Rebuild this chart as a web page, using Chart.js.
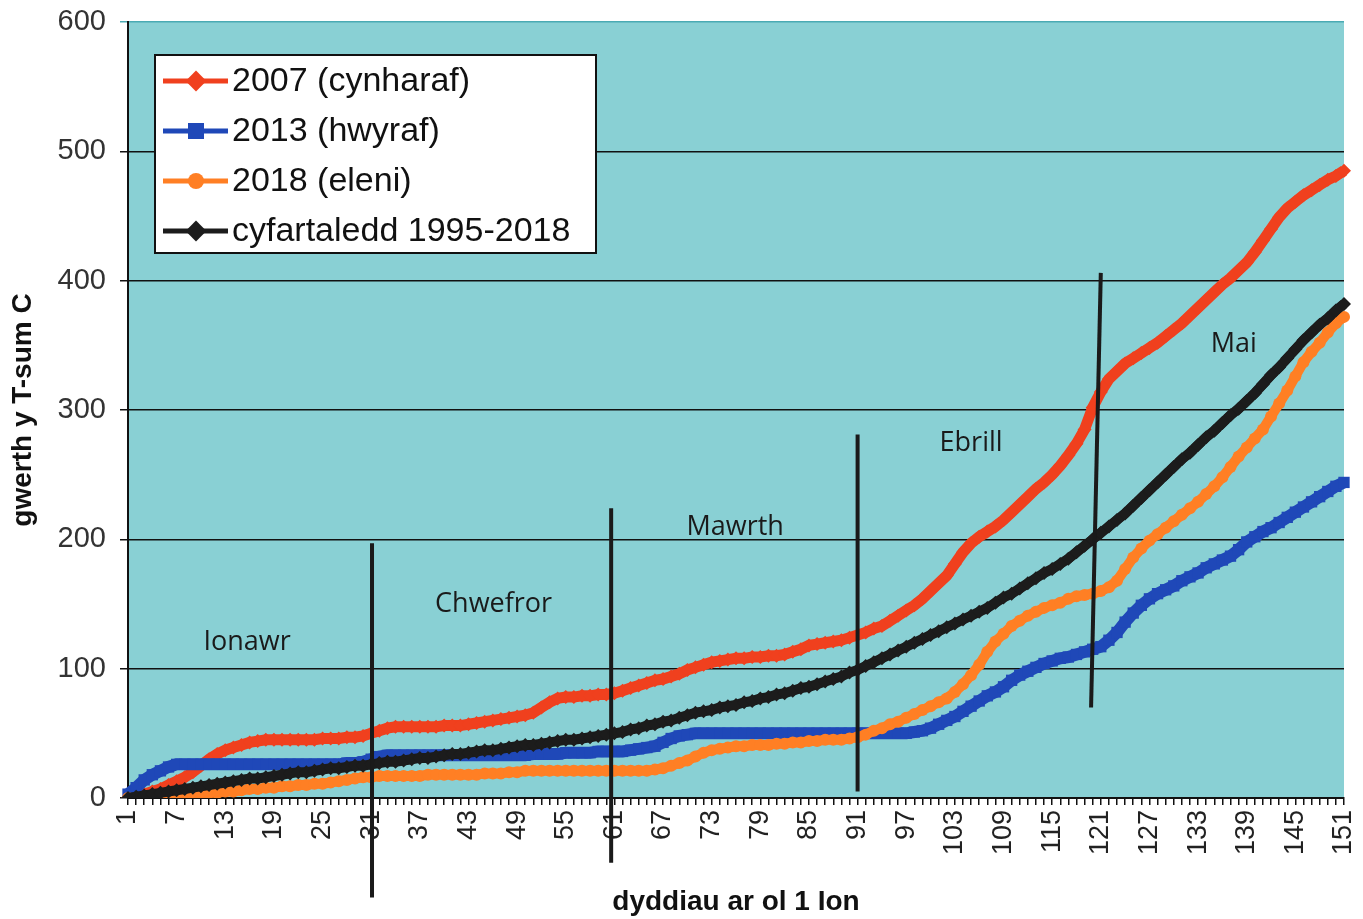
<!DOCTYPE html>
<html>
<head>
<meta charset="utf-8">
<script src="https://cdn.jsdelivr.net/npm/chart.js@4.4.1/dist/chart.umd.min.js"></script>
<style>
  body { margin: 0; background: #fff; }
</style>
</head>
<body>
<canvas id="tsumChart" width="1363" height="919"></canvas>
<script>
// days after 1 Jan
var days = [];
for (var d = 1; d <= 151; d++) days.push(String(d));

var yr2007 = [0,1,3,5,7,10,13,16,20,25,
  30,34,37,39,41,43,44,45,45,45,
  45,45,45,45,46,46,46,47,47,48,
  50,52,54,55,55,55,55,55,55,56,
  56,56,57,58,59,60,61,62,63,64,
  66,70,74,77,78,78,79,79,80,80,
  81,83,85,87,89,91,92,94,96,99,
  101,103,105,106,107,108,108,109,109,110,
  110,111,113,115,118,119,120,121,122,124,
  126,128,131,133,137,141,145,149,154,160,
  166,172,181,190,197,202,206,210,215,221,
  227,233,239,244,250,257,265,274,285,302,
  314,324,330,336,340,344,348,352,357,362,
  367,373,379,385,391,397,402,408,414,422,
  431,440,449,456,461,466,470,474,478,481,
  485];

var yr2013 = [3,8,14,18,21,24,26,26,26,26,
  26,26,26,26,26,26,26,26,26,26,
  26,26,26,26,26,26,26,27,27,28,
  30,32,33,33,33,33,33,33,33,33,
  33,33,33,33,33,33,33,33,33,33,
  34,34,34,34,35,35,35,35,36,36,
  36,36,37,38,39,40,43,46,48,49,
  50,50,50,50,50,50,50,50,50,50,
  50,50,50,50,50,50,50,50,50,50,
  50,50,50,50,50,50,50,51,52,54,
  57,60,63,67,71,75,79,82,86,91,
  95,98,101,104,106,108,109,111,113,115,
  117,122,128,136,143,149,154,158,161,164,
  168,171,174,178,181,184,187,192,198,202,
  206,209,213,217,221,225,229,233,237,241,
  244];

var yr2018 = [0,0,1,1,1,2,2,2,3,3,
  4,4,5,5,6,7,7,8,8,9,
  9,10,10,11,11,12,13,14,15,16,
  16,17,17,17,17,17,17,18,18,18,
  18,18,18,18,19,19,19,20,20,21,
  21,21,21,21,21,21,21,21,21,21,
  21,21,21,21,21,22,23,25,27,29,
  32,35,37,38,39,40,40,41,41,41,
  42,42,43,43,44,44,45,45,45,46,
  47,49,52,54,57,59,62,65,68,71,
  74,77,82,88,95,103,113,121,127,133,
  137,141,144,147,149,151,154,156,157,158,
  160,163,168,177,186,193,199,204,209,214,
  219,224,229,235,241,248,256,264,271,278,
  285,295,305,315,326,337,345,352,360,367,
  372];

var avg9518 = [0,1,2,3,4,5,6,7,8,9,
  10,11,12,13,14,15,15,16,17,18,
  19,20,20,21,22,23,23,24,25,25,
  26,27,28,28,29,30,31,31,32,33,
  34,34,35,36,37,37,38,39,40,41,
  41,42,43,44,45,45,46,47,48,49,
  50,51,53,54,56,57,59,60,62,64,
  66,67,68,70,71,72,74,75,77,78,
  80,81,83,85,86,88,90,92,94,97,
  99,102,105,108,111,114,117,120,123,126,
  129,132,135,138,141,144,147,151,155,158,
  162,166,170,174,177,181,185,190,195,200,
  205,210,215,220,226,232,238,244,250,256,
  262,267,273,279,284,290,296,301,307,313,
  320,327,333,340,347,354,360,366,371,377,
  382];

var seriesNames = ['2007 (cynharaf)', '2013 (hwyraf)', '2018 (eleni)', 'cyfartaledd 1995-2018'];

// hand drawn month markers (day, value)
var months = ['Ionawr', 'Chwefror', 'Mawrth', 'Ebrill', 'Mai'];
var monthDay = [15.7, 46.1, 75.9, 105, 137.4];
var monthValue = [120, 150, 209, 274, 351];
var dividerTop = [[31.1, 197], [60.6, 224], [91, 281], [121, 406]];
var dividerBottom = [[31.1, -77], [60.6, -50], [91, 5], [119.8, 70]];

var colors = ['#f0401e', '#1f48b8', '#ff7f24', '#1c1c1c'];
var markers = ['rectRot', 'rect', 'circle', 'rectRot'];

function drawMarker(ctx, style, x, y, r) {
    ctx.beginPath();
    if (style == 'rect') {
        ctx.rect(x - r, y - r, 2 * r, 2 * r);
    } else if (style == 'rectRot') {
        ctx.moveTo(x, y - r * 1.3);
        ctx.lineTo(x + r * 1.3, y);
        ctx.lineTo(x, y + r * 1.3);
        ctx.lineTo(x - r * 1.3, y);
        ctx.closePath();
    } else {
        ctx.arc(x, y, r, 0, Math.PI * 2);
    }
    ctx.fill();
}

var extras = {
    id: 'extras',
    beforeDraw: function(chart) {
        var a = chart.chartArea, ctx = chart.ctx;
        ctx.save();
        ctx.fillStyle = '#89d0d4';
        ctx.fillRect(a.left, a.top, a.right - a.left, a.bottom - a.top);
        ctx.restore();
    },
    afterDraw: function(chart) {
        var ctx = chart.ctx, a = chart.chartArea;
        var xs = chart.scales.x, ys = chart.scales.y;
        ctx.save();
        // month dividers
        ctx.strokeStyle = '#1a1a1a';
        ctx.lineWidth = 4;
        for (var i = 0; i < dividerTop.length; i++) {
            ctx.beginPath();
            ctx.moveTo(xs.getPixelForValue(dividerTop[i][0] - 1), ys.getPixelForValue(dividerTop[i][1]));
            ctx.lineTo(xs.getPixelForValue(dividerBottom[i][0] - 1), ys.getPixelForValue(dividerBottom[i][1]));
            ctx.stroke();
        }
        // month names
        ctx.fillStyle = '#1a1a1a';
        ctx.font = '27px "Open Sans"';
        ctx.textAlign = 'center';
        ctx.textBaseline = 'middle';
        for (var m = 0; m < months.length; m++) {
            ctx.fillText(months[m], xs.getPixelForValue(monthDay[m] - 1), ys.getPixelForValue(monthValue[m]));
        }
        // legend box
        var lx = a.left + 27, ly = a.top + 33;
        ctx.fillStyle = '#ffffff';
        ctx.fillRect(lx, ly, 441, 198);
        ctx.strokeStyle = '#111';
        ctx.lineWidth = 2;
        ctx.strokeRect(lx, ly, 441, 198);
        ctx.font = '34px "Liberation Sans"';
        ctx.textAlign = 'left';
        for (var k = 0; k < seriesNames.length; k++) {
            var ry = ly + 26 + k * 50;
            ctx.strokeStyle = colors[k];
            ctx.fillStyle = colors[k];
            ctx.lineWidth = 5;
            ctx.beginPath();
            ctx.moveTo(lx + 8, ry);
            ctx.lineTo(lx + 73, ry);
            ctx.stroke();
            drawMarker(ctx, markers[k], lx + 41, ry, 8);
            ctx.fillStyle = '#111';
            ctx.fillText(seriesNames[k], lx + 77, ry + 1);
        }
        ctx.restore();
    }
};

function series(i, data, width, radius, order) {
    return {
        label: seriesNames[i],
        data: data,
        borderColor: colors[i],
        backgroundColor: colors[i],
        borderWidth: width,
        pointStyle: markers[i],
        pointRadius: radius,
        pointBorderWidth: 0,
        order: order,
        tension: 0
    };
}

var ctx = document.getElementById('tsumChart').getContext('2d');
var tsumChart = new Chart(ctx, {
    type: 'line',
    data: {
        labels: days,
        datasets: [
            series(0, yr2007, 11, 7, 3),
            series(1, yr2013, 12, 8, 2),
            series(2, yr2018, 10, 6, 1),
            series(3, avg9518, 10, 7, 0)
        ]
    },
    options: {
        responsive: false,
        animation: false,
        devicePixelRatio: 1,
        events: [],
        layout: { padding: { left: 6, right: 19, top: 22, bottom: 0 } },
        plugins: { legend: { display: false }, tooltip: { enabled: false } },
        scales: {
            x: {
                type: 'category',
                offset: false,
                grid: { display: true, drawOnChartArea: false, drawTicks: true, tickLength: 7, color: '#111', lineWidth: 1.5 },
                border: { display: true, color: '#111', width: 2 },
                ticks: {
                    autoSkip: false,
                    maxRotation: 90,
                    minRotation: 90,
                    padding: 5,
                    color: '#222',
                    font: { family: 'Liberation Sans', size: 27 },
                    callback: function(val, index) {
                        return index % 6 === 0 ? this.getLabelForValue(val) : '';
                    }
                },
                title: {
                    display: true,
                    text: 'dyddiau ar ol 1 Ion',
                    color: '#111',
                    font: { family: 'Liberation Sans', size: 28, weight: 'bold' },
                    padding: { top: 0, bottom: 0 }
                },
                afterFit: function(scale) {
                    scale.height = 121;
                    scale.paddingLeft = 0;
                    scale.paddingRight = 0;
                }
            },
            y: {
                min: 0,
                max: 600,
                ticks: {
                    stepSize: 100,
                    padding: 14,
                    color: '#333',
                    font: { family: 'Liberation Sans', size: 29 }
                },
                grid: {
                    color: function(c) { return c.tick && c.tick.value === 600 ? '#4aaab3' : '#111'; },
                    lineWidth: 1.5,
                    tickLength: 8
                },
                border: { display: true, color: '#111', width: 2 },
                title: {
                    display: true,
                    text: 'gwerth y T-sum C',
                    color: '#111',
                    font: { family: 'Liberation Sans', size: 28, weight: 'bold' },
                    padding: { top: 0, bottom: 0 }
                },
                afterFit: function(scale) {
                    scale.width = 122;
                    scale.paddingTop = 0;
                    scale.paddingBottom = 0;
                }
            }
        }
    },
    plugins: [extras]
});
</script>
</body>
</html>
